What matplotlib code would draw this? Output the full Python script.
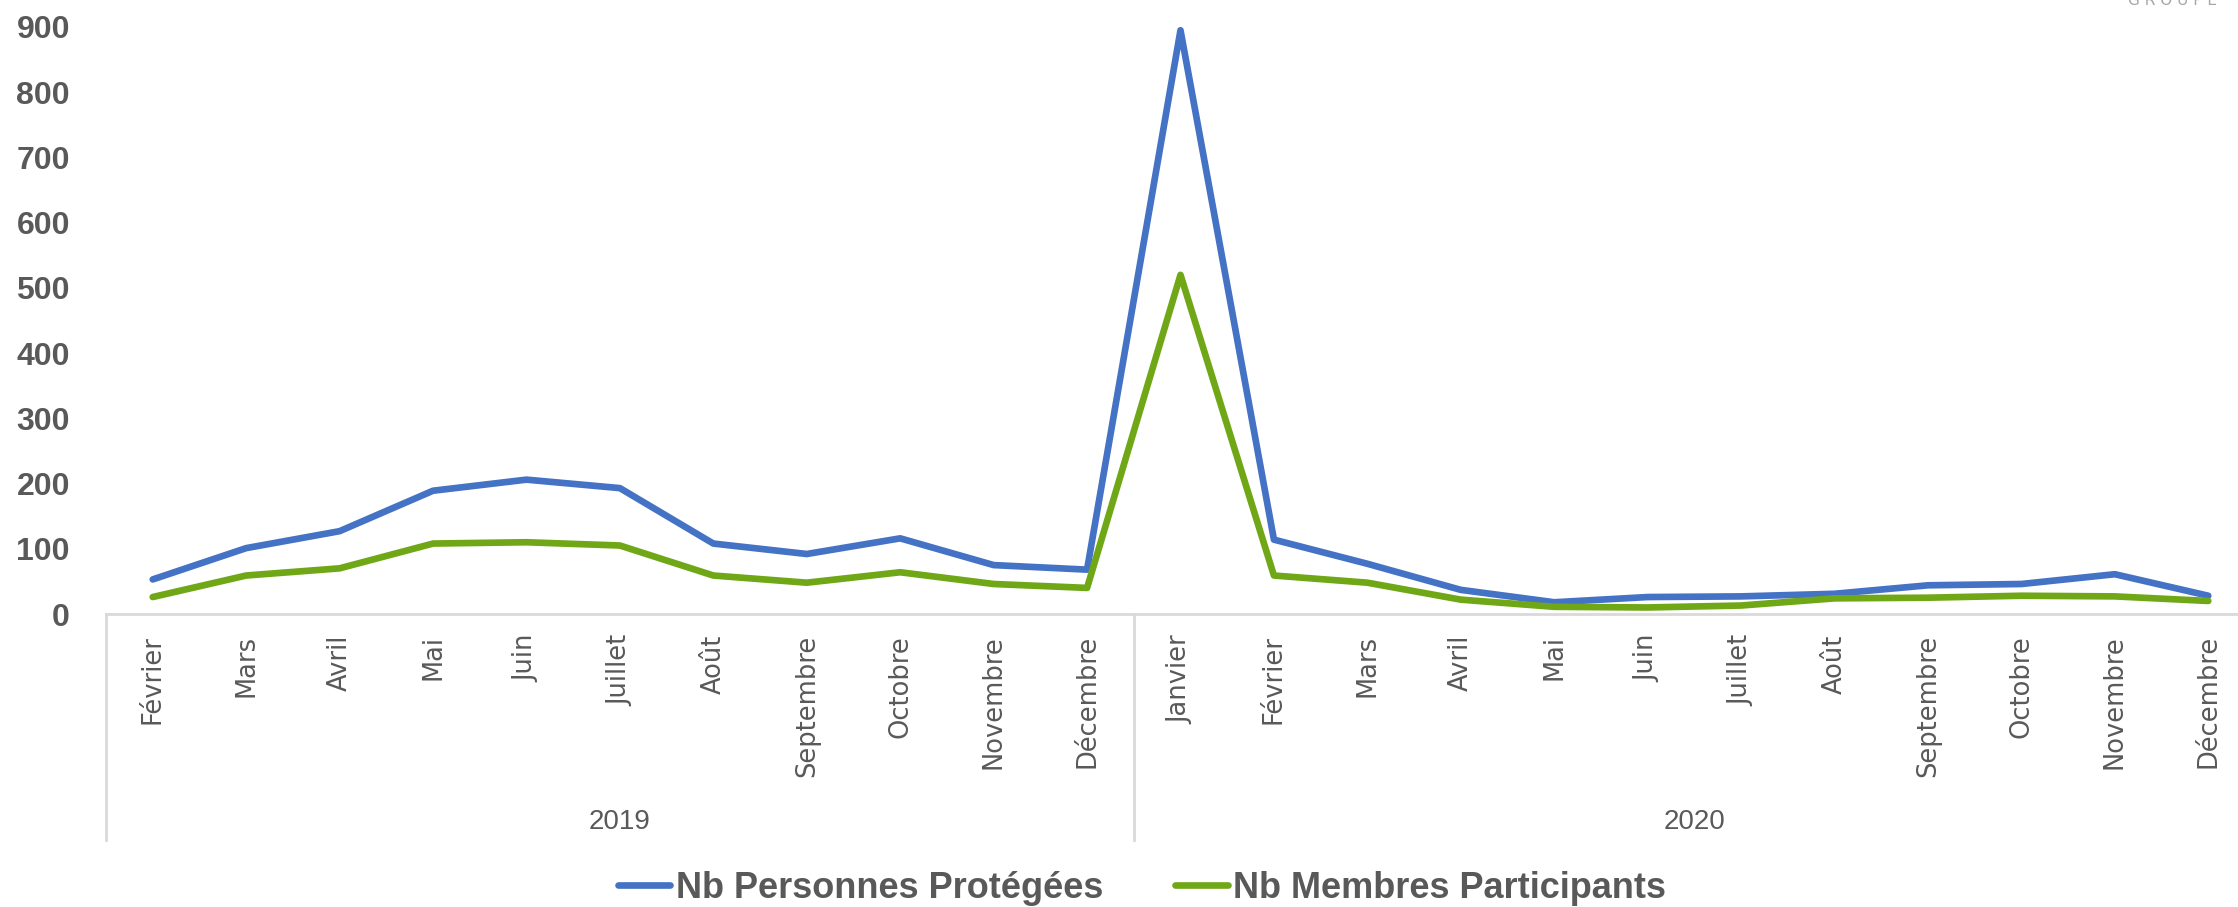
import matplotlib.pyplot as plt

# donnees
mois = ["Février", "Mars", "Avril", "Mai", "Juin", "Juillet", "Août", "Septembre",
        "Octobre", "Novembre", "Décembre",
        "Janvier", "Février", "Mars", "Avril", "Mai", "Juin", "Juillet", "Août",
        "Septembre", "Octobre", "Novembre", "Décembre"]
annees = ["2019", "2020"]
nb_mois_annee = [11, 12]

personnes_protegees = [53, 101, 127, 189, 206, 193, 108, 92, 116, 75, 68,
                       895, 114, 77, 37, 18, 26, 27, 31, 44, 46, 61, 28]
membres_participants = [26, 59, 70, 108, 110, 105, 59, 48, 64, 46, 40,
                        520, 59, 48, 22, 11, 10, 13, 24, 25, 28, 27, 20]

W, H = 2238, 907
gris = "#595959"
gris_axe = "#D9D9D9"
bleu = "#4472C4"
vert = "#6FA716"

fig = plt.figure(figsize=(W / 100, H / 100), dpi=100)
# position du graphique (l'axe depasse a droite comme dans l'original)
x0, x1 = 106, 2255
y_haut, y_bas = 27, 614
ax = fig.add_axes([x0 / W, 1 - y_bas / H, (x1 - x0) / W, (y_bas - y_haut) / H])

x = list(range(len(mois)))
ax.plot(x, personnes_protegees, color=bleu, lw=4.8, solid_joinstyle="round",
        solid_capstyle="round", label="Nb Personnes Protégées")
ax.plot(x, membres_participants, color=vert, lw=4.8, solid_joinstyle="round",
        solid_capstyle="round", label="Nb Membres Participants")

ax.set_xlim(-0.5, len(mois) - 0.5)
ax.set_ylim(0, 900)
ax.set_yticks(range(0, 901, 100))
ax.set_xticks(x)
ax.set_xticklabels(mois, rotation=90, fontsize=18.5, color=gris, family="DejaVu Sans")
for lab in ax.get_yticklabels():
    lab.set_fontfamily("Liberation Sans")
    lab.set_fontweight("bold")
ax.tick_params(axis="y", length=0, pad=26, labelsize=23, labelcolor=gris)
ax.tick_params(axis="x", length=0, pad=15)

for s in ["top", "right", "left"]:
    ax.spines[s].set_visible(False)
ax.spines["bottom"].set_color(gris_axe)
ax.spines["bottom"].set_linewidth(2)

# separateurs des annees et etiquettes
h_px = y_bas - y_haut
y_fin = -(840 - y_bas) / h_px
y_annee = -(822 - y_bas) / h_px
trans = ax.get_xaxis_transform()
debut = -0.5
for annee, n in zip(annees, nb_mois_annee):
    ax.plot([debut, debut], [0, y_fin], color=gris_axe, lw=2, transform=trans, clip_on=False)
    ax.text(debut + n / 2, y_annee, annee, transform=trans, ha="center", va="center",
            fontsize=20, color=gris, family="Liberation Sans")
    debut += n
ax.plot([debut, debut], [0, y_fin], color=gris_axe, lw=2, transform=trans, clip_on=False)

# legende
leg = fig.legend(loc="center", bbox_to_anchor=(1142 / W, 1 - 888 / H), ncol=2, frameon=False,
                 handlelength=1.45, handletextpad=0.15, columnspacing=2.0,
                 prop={"family": "Liberation Sans", "weight": "bold", "size": 26})
for t in leg.get_texts():
    t.set_color(gris)

# logo coupe en haut a droite
fig.text(2217 / W, 1 - 5 / H, "G R O U P E", ha="right", va="baseline", fontsize=11,
         color="#A6A6A6", family="DejaVu Sans")

fig.savefig("out.png", dpi=100)
